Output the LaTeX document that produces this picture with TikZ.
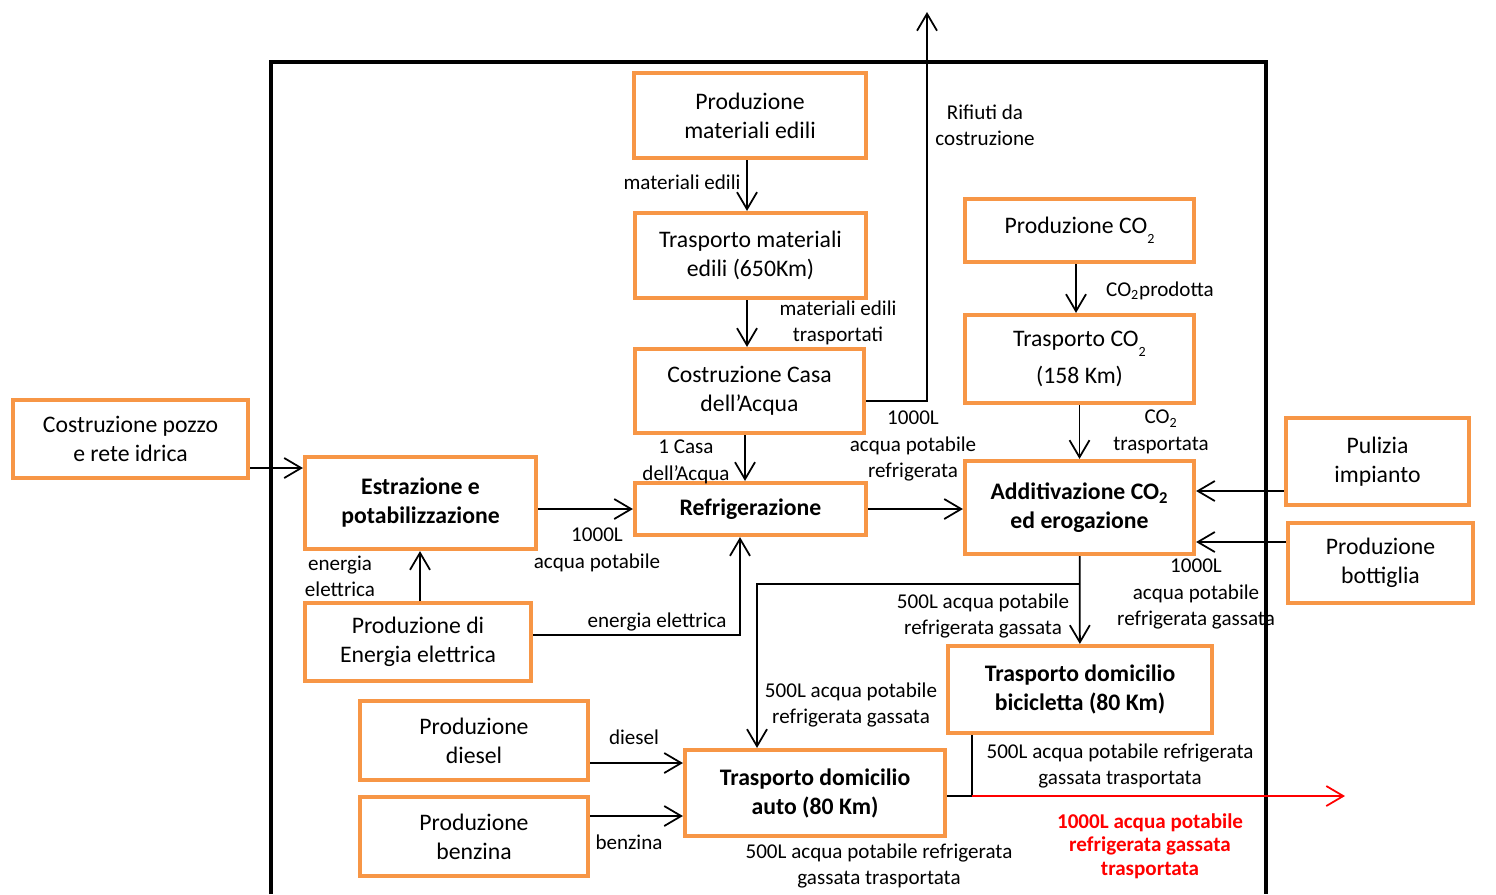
\documentclass[tikz,border=0pt]{standalone}
\usepackage{fontspec}
\setmainfont{Carlito}
\usetikzlibrary{arrows.meta}

\definecolor{arancio}{RGB}{247,150,70}
\definecolor{rossouscita}{RGB}{255,0,0}
\newcommand{\pedicebasso}[1]{\raisebox{-0.9ex}{\fontsize{8}{8}\selectfont #1}}

\begin{document}
\begin{tikzpicture}[
  x=0.02cm, y=-0.02cm,
  scatola/.style={draw=arancio, line width=2.4pt, align=center, inner sep=2pt,
    font=\fontsize{13.5}{16.5}\selectfont},
  scatolab/.style={scatola, font=\fontsize{13.5}{16.5}\selectfont\bfseries},
  filo/.style={draw=black, line width=1pt},
  freccia/.style={filo, -{Straight Barb[length=3.4mm, width=4mm]}},
  etichetta/.style={inner sep=1pt, align=center, font=\fontsize{12}{15}\selectfont},
  cornice/.style={draw=black, line width=2.6pt}
]
\useasboundingbox (0,0) rectangle (1496,894);

%--------------------------------------------------------------
% Confine del sistema
%--------------------------------------------------------------
\draw[cornice] (271,894) -- (271,62) -- (1266,62) -- (1266,894);

%--------------------------------------------------------------
% Processi
%--------------------------------------------------------------
\node[scatola, minimum width=4.64cm, minimum height=1.70cm] (prodMateriali) at (750,115.5) {Produzione\\materiali edili};
\node[scatola, minimum width=4.62cm, minimum height=1.70cm] (trasMateriali) at (750.5,255.5) {Trasporto materiali\\edili (650Km)};
\node[scatola, minimum width=4.58cm, minimum height=1.68cm] (costruzione) at (749.5,391) {Costruzione Casa\\dell’Acqua};
\node[scatolab, minimum width=4.62cm, minimum height=1.04cm] (refrigerazione) at (750.5,509) {Refrigerazione};
\node[scatolab, minimum width=4.62cm, minimum height=1.84cm] (estrazione) at (420.5,503) {Estrazione e\\potabilizzazione};
\node[scatola, minimum width=4.70cm, minimum height=1.56cm] (pozzo) at (130.5,439) {Costruzione pozzo\\e rete idrica};
\node[scatola, minimum width=4.52cm, minimum height=1.56cm] (energia) at (418,642) {Produzione di\\Energia elettrica};
\node[scatola, minimum width=4.56cm, minimum height=1.58cm] (diesel) at (474,740.5) {Produzione\\diesel};
\node[scatola, minimum width=4.56cm, minimum height=1.58cm] (benzina) at (474,836.5) {Produzione\\benzina};
\node[scatolab, minimum width=5.20cm, minimum height=1.72cm] (auto) at (815,793) {Trasporto domicilio\\auto (80 Km)};
\node[scatolab, minimum width=5.28cm, minimum height=1.74cm] (bici) at (1080,689.5) {Trasporto domicilio\\bicicletta (80 Km)};
\node[scatolab, minimum width=4.58cm, minimum height=1.86cm] (additivazione) at (1079.5,507.5) {Additivazione CO\textsubscript{2}\\ed erogazione};
\node[scatola, minimum width=4.58cm, minimum height=1.26cm] (prodCO2) at (1079.5,230.5) {Produzione CO\pedicebasso{2}};
\node[scatola, minimum width=4.58cm, minimum height=1.76cm] (trasCO2) at (1079.5,359) {Trasporto CO\pedicebasso{2}\\[5pt](158 Km)};
\node[scatola, minimum width=3.66cm, minimum height=1.74cm] (pulizia) at (1377.5,461.5) {Pulizia\\impianto};
\node[scatola, minimum width=3.70cm, minimum height=1.60cm] (bottiglia) at (1380.5,563) {Produzione\\bottiglia};

%--------------------------------------------------------------
% Punti di appoggio dei collegamenti
%--------------------------------------------------------------
\coordinate (rifiuti) at (927,12);
\coordinate (bivio) at (1080,584);
\coordinate (uscitaNodo) at (972,796);
\coordinate (uscita) at (1345,796);

%--------------------------------------------------------------
% Filiera della Casa dell'Acqua
%--------------------------------------------------------------
\draw[freccia] (prodMateriali.south -| 747,0) -- (trasMateriali.north -| 747,0);
\draw[freccia] (trasMateriali.south -| 747,0) -- (costruzione.north -| 747,0);
\draw[freccia] (costruzione.south -| 745,0) -- (refrigerazione.north -| 745,0);
\draw[freccia] (costruzione.east |- 0,401) -| (rifiuti);
\node[etichetta] (lMateriali) at (682,182) {materiali edili};
\node[etichetta] (lTrasportati) at (838,323) {materiali edili\\trasportati};
\node[etichetta] (lCasa) at (686,462) {1 Casa\\dell’Acqua};
\node[etichetta] (lRifiuti) at (985,125) {Rifiuti da\\costruzione};

%--------------------------------------------------------------
% Acqua ed energia
%--------------------------------------------------------------
\draw[freccia] (pozzo.east |- 0,468) -- (estrazione.west |- 0,468);
\draw[freccia] (estrazione.east |- 0,509) -- (refrigerazione.west |- 0,509);
\draw[freccia] (energia.north -| 420,0) -- (estrazione.south -| 420,0);
\draw[freccia] (energia.east |- 0,635) -| (refrigerazione.south -| 740,0);
\draw[freccia] (refrigerazione) -- (additivazione.west |- 0,509);
\node[etichetta] (lPotabile) at (597,550) {1000L\\acqua potabile};
\node[etichetta] (lEnergia1) at (340,576) {energia\\elettrica};
\node[etichetta] (lEnergia2) at (657,622) {energia elettrica};
\node[etichetta] (lRefrigerata) at (913,446) {1000L\\acqua potabile\\refrigerata};

%--------------------------------------------------------------
% CO2 e ingressi dell'erogazione
%--------------------------------------------------------------
\draw[freccia] (prodCO2.south -| 1076,0) -- (trasCO2.north -| 1076,0);
\draw[freccia] (trasCO2) -- (additivazione);
\draw[freccia] (pulizia.west |- 0,491) -- (additivazione.east |- 0,491);
\draw[freccia] (bottiglia.west |- 0,542) -- (additivazione.east |- 0,542);
\node[etichetta] (lCO2prodotta) at (1160,291) {CO\textsubscript{2}prodotta};
\node[etichetta] (lCO2trasp) at (1161,432) {CO\textsubscript{2}\\trasportata};

%--------------------------------------------------------------
% Distribuzione a domicilio
%--------------------------------------------------------------
\draw[freccia] (additivazione) -- (bici);
\draw[freccia] (bivio) -| (auto.north -| 757,0);
\draw[freccia] (diesel.east |- 0,763) -- (auto.west |- 0,763);
\draw[freccia] (benzina.east |- 0,816) -- (auto.west |- 0,816);
\draw[filo] (auto.east |- uscitaNodo) -- (uscitaNodo);
\draw[filo] (bici.south -| uscitaNodo) -- (uscitaNodo);
\draw[freccia, draw=rossouscita] (uscitaNodo) -- (uscita);
\node[etichetta] (lGassata) at (1196,594) {1000L\\acqua potabile\\refrigerata gassata};
\node[etichetta] (lBici) at (983,616) {500L acqua potabile\\refrigerata gassata};
\node[etichetta] (lAuto) at (851,705) {500L acqua potabile\\refrigerata gassata};
\node[etichetta] (lDiesel) at (634,737) {diesel};
\node[etichetta] (lBenzina) at (629,842) {benzina};
\node[etichetta] (lBiciTrasp) at (1120,766) {500L acqua potabile refrigerata\\gassata trasportata};
\node[etichetta] (lAutoTrasp) at (879,866) {500L acqua potabile refrigerata\\gassata trasportata};
\node[etichetta, text=rossouscita, font=\fontsize{12}{13.5}\selectfont\bfseries] (lUscita) at (1150,846) {1000L acqua potabile\\refrigerata gassata\\trasportata};

\end{tikzpicture}
\end{document}
